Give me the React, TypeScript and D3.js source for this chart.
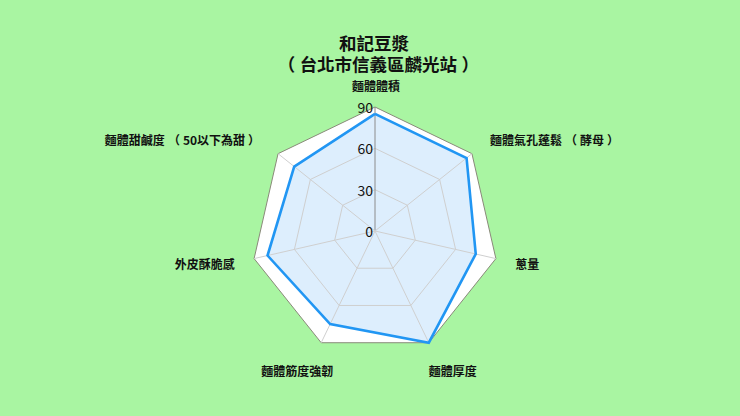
import { useMemo } from 'react';
import * as d3 from 'd3';

// Radar chart: 和記豆漿 tasting scores

const titleLines = ['和記豆漿', '（台北市信義區麟光站）'];

const axisLabels = [
	'麵體體積',
	'麵體氣孔蓬鬆（酵母）',
	'蔥量',
	'麵體厚度',
	'麵體筋度強韌',
	'外皮酥脆感',
	'麵體甜鹹度（50以下為甜）',
];

const scores = [85, 85, 75, 90, 75, 80, 75];

const tickValues = [0, 30, 60, 90];

const WIDTH = 740;
const HEIGHT = 416;
const CX = 375;
const CY = 231;
const RADIUS = 124;
const FONT = '"Noto Sans CJK TC", sans-serif';

// the browser sets full-width brackets half-width; pad them back to a full em
function cjkText(text: string, size: number) {
	const parts = text.split(/([（）])/).filter((p) => p.length > 0);
	let pad = 0;
	return parts.map((p, k) => {
		const isParen = p === '（' || p === '）';
		const dx = pad + (isParen ? size * 0.25 : 0);
		pad = isParen ? size * 0.25 : 0;
		return (
			<tspan key={k} dx={dx || undefined}>
				{p}
			</tspan>
		);
	});
}

export default function App() {
	const r = useMemo(() => d3.scaleLinear().domain([0, 90]).range([0, RADIUS]), []);
	const angle = useMemo(
		() =>
			d3
				.scaleLinear()
				.domain([0, axisLabels.length])
				.range([0, Math.PI * 2]),
		[]
	);

	const point = (i: number, v: number): [number, number] => {
		const a = angle(i);
		return [CX + Math.sin(a) * r(v), CY - Math.cos(a) * r(v)];
	};

	const ring = (v: number) => {
		const pts = axisLabels.map((_, i) => point(i, v));
		return d3.line()(pts.concat([pts[0]])) || '';
	};

	const seriesPath = useMemo(() => {
		const pts = scores.map((s, i) => point(i, s));
		return d3.line()(pts.concat([pts[0]])) || '';
	}, []);

	// label placement: top label centred above, bottom pair centred below,
	// the rest left/right aligned just past the outer ring
	const labelPos = (i: number) => {
		const a = angle(i);
		const s = Math.sin(a);
		const c = Math.cos(a);
		if (Math.abs(s) < 0.05) {
			return { x: CX + 1, y: CY - RADIUS - 22, anchor: 'middle' };
		}
		if (c < -0.85) {
			const [vx, vy] = point(i, 90);
			return { x: vx + Math.sign(s) * 24, y: vy + 27, anchor: 'middle' };
		}
		const L = RADIUS + 18 + 8 * Math.abs(c);
		return { x: CX + s * L, y: CY - c * L, anchor: s > 0 ? 'start' : 'end' };
	};

	return (
		<div style={{ position: 'fixed', left: 0, top: 0, width: WIDTH, height: HEIGHT, background: '#a9f5a2' }}>
			<svg width={WIDTH} height={HEIGHT} style={{ display: 'block' }} fontFamily={FONT}>
				{titleLines.map((t, i) => (
					<text key={t} x={WIDTH / 2 + 4} y={42 + i * 21} textAnchor="middle" dominantBaseline="central" fontSize={17.5} fontWeight="bold" fill="#111">
						{cjkText(t, 17.5)}
					</text>
				))}

				{/* outer area */}
				<path d={ring(90)} fill="#ffffff" stroke="#8a8a7a" strokeWidth={1} />

				{/* series fill under grid */}
				<path d={seriesPath} fill="#ddeefd" stroke="none" />

				{/* inner rings */}
				{tickValues.slice(1, -1).map((t) => (
					<path key={t} d={ring(t)} fill="none" stroke="#cfcfcf" strokeWidth={1} />
				))}

				{/* spokes */}
				{axisLabels.map((_, i) => {
					const [x, y] = point(i, 90);
					return <line key={i} x1={CX} y1={CY} x2={x} y2={y} stroke={i === 0 ? '#8c8c8c' : '#cfcfcf'} strokeWidth={1} />;
				})}

				{/* series outline */}
				<path d={seriesPath} fill="none" stroke="#2196f3" strokeWidth={2.6} strokeLinejoin="miter" />

				{/* ticks */}
				{tickValues.map((t) => (
					<text key={t} x={CX - 2} y={CY - r(t)} textAnchor="end" dominantBaseline="central" fontSize={14} fill="#111">
						{t}
					</text>
				))}

				{/* axis labels */}
				{axisLabels.map((label, i) => {
					const p = labelPos(i);
					return (
						<text key={label} x={p.x} y={p.y} textAnchor={p.anchor} dominantBaseline="central" fontSize={12} fontWeight="bold" fill="#111">
							{cjkText(label, 12)}
						</text>
					);
				})}
			</svg>
		</div>
	);
}
